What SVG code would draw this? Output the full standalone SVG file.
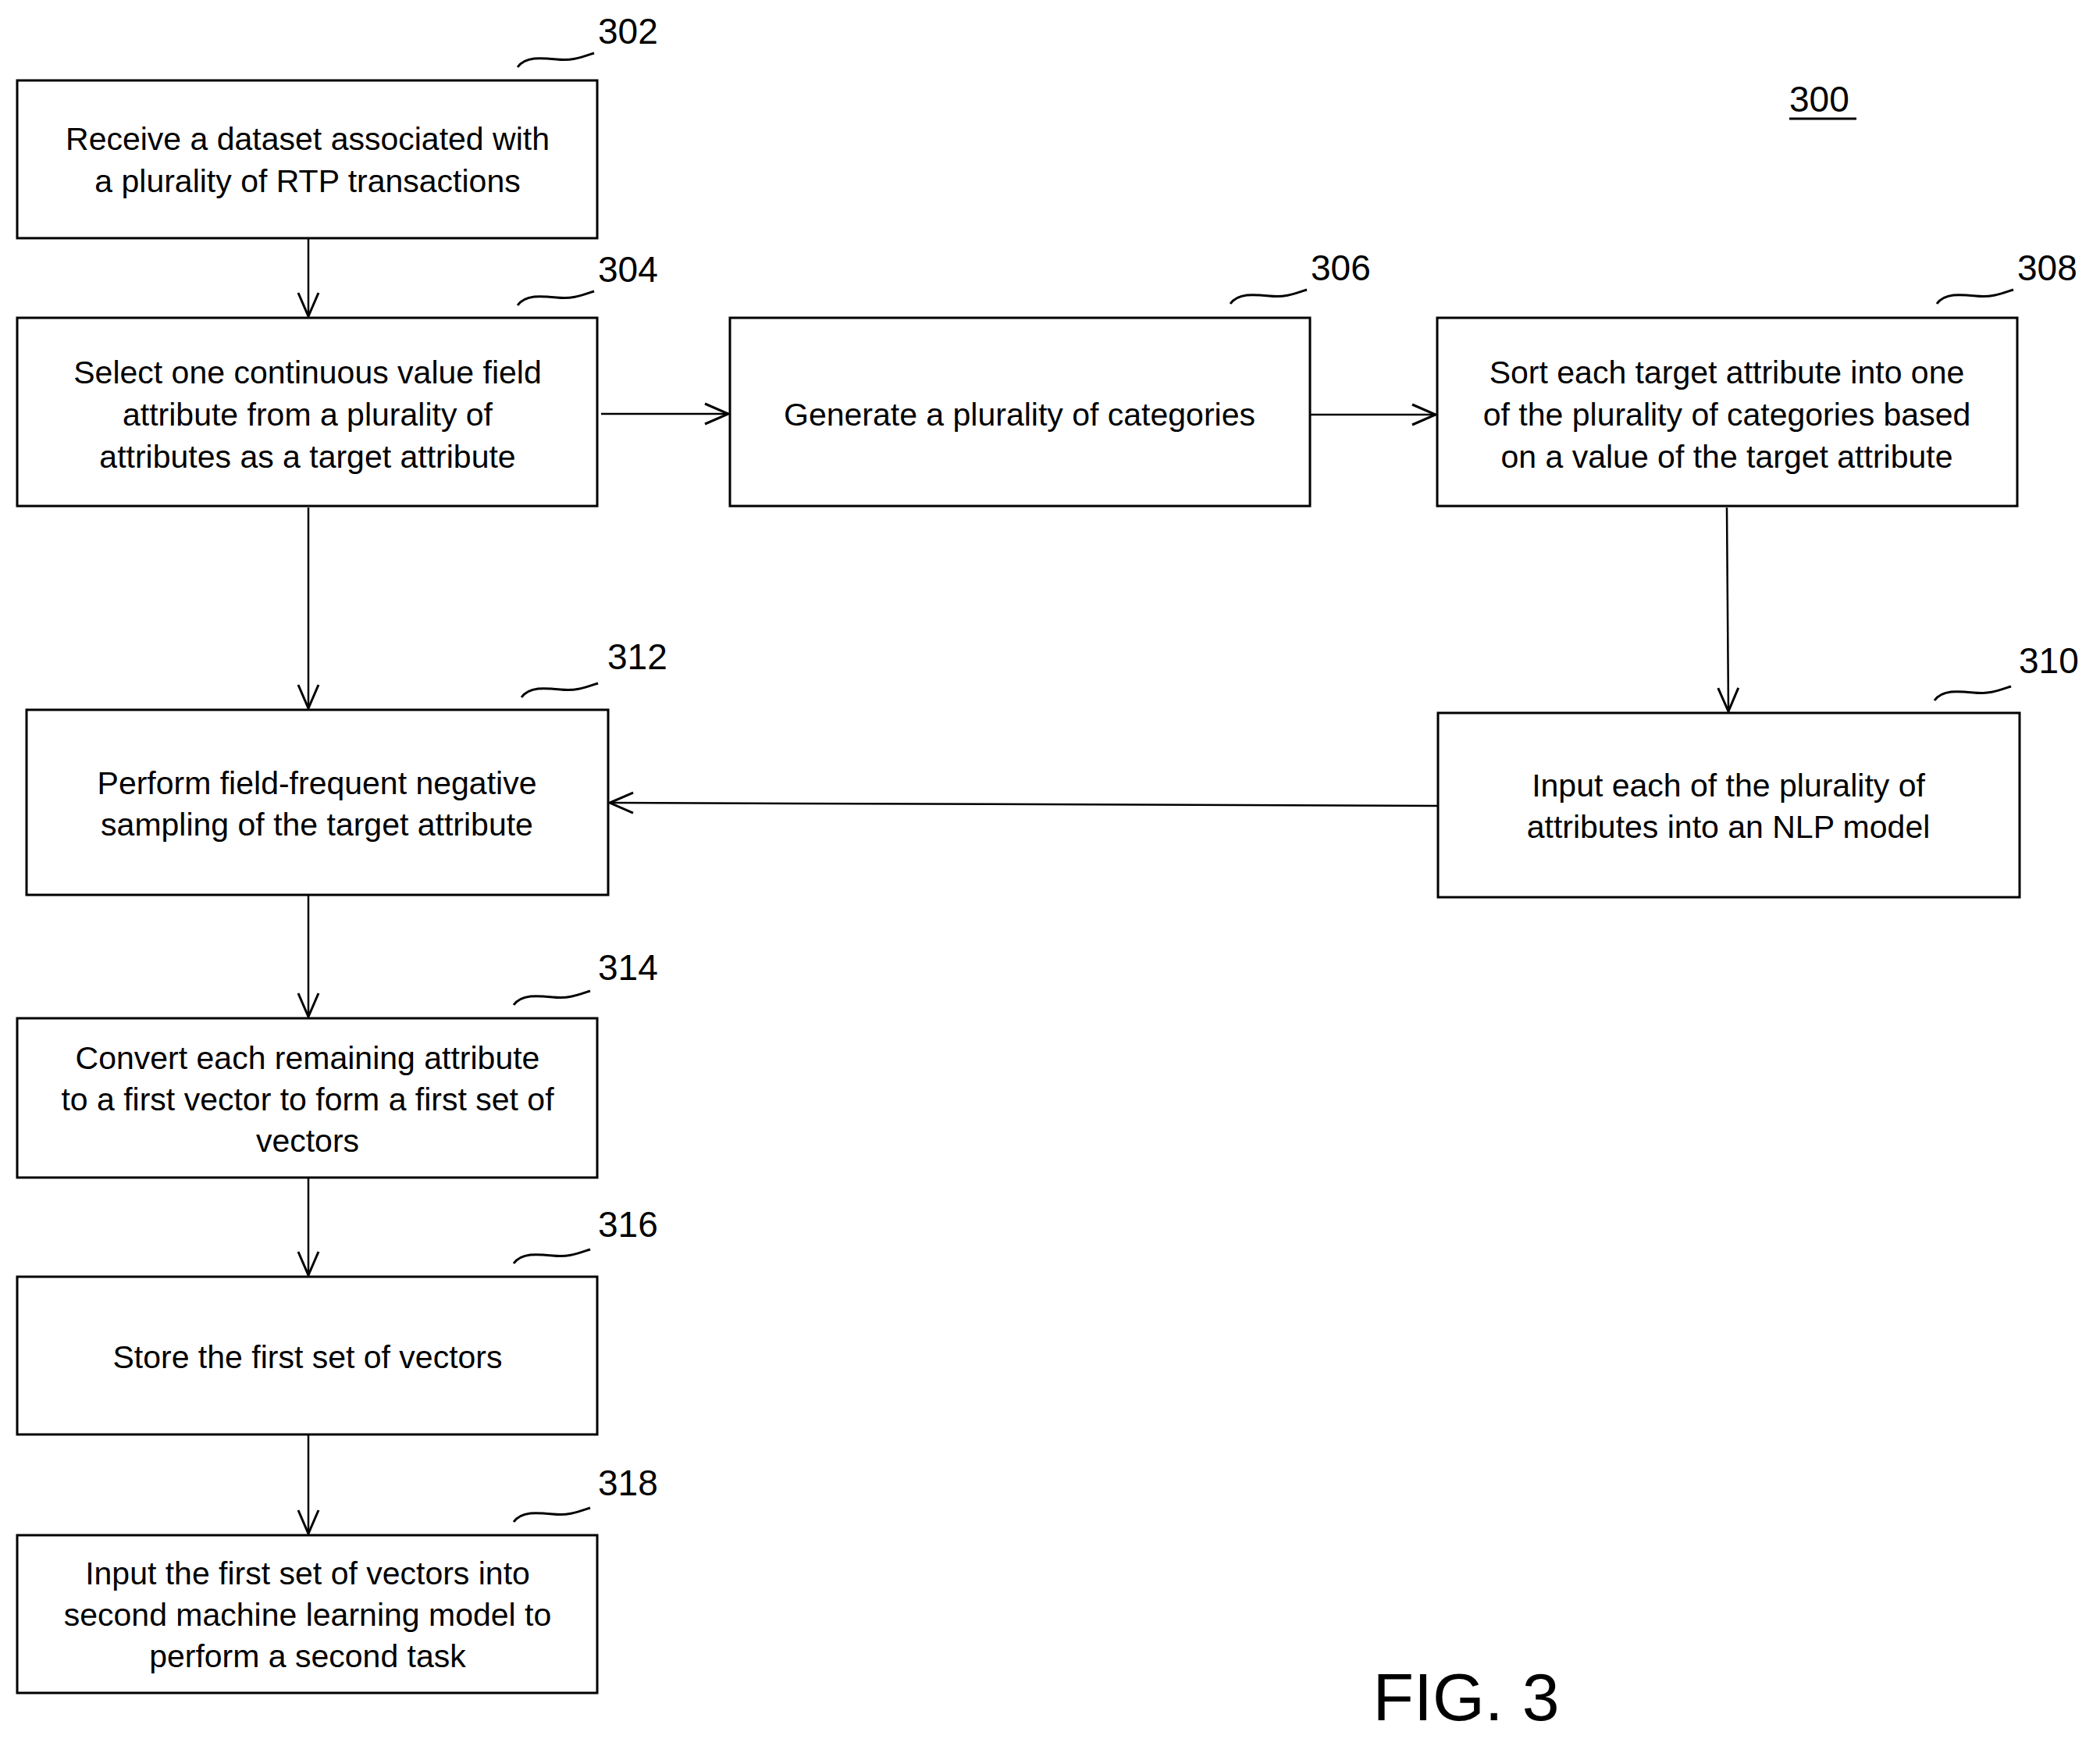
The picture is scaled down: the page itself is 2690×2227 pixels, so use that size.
<svg xmlns="http://www.w3.org/2000/svg" width="2690" height="2227" viewBox="0 0 2690 2227">
<style>
rect{fill:#fff;stroke:#000;stroke-width:3}
text{font-family:"Liberation Sans",Arial,sans-serif;font-size:41px;fill:#000;text-anchor:middle;dominant-baseline:central}
.n{font-size:46px;text-anchor:start}
.c{fill:none;stroke:#000;stroke-width:2.5}
.s{fill:none;stroke:#000;stroke-width:3}
</style>
<defs><marker id="a" markerWidth="12" markerHeight="12" refX="11" refY="6" orient="auto" markerUnits="userSpaceOnUse"><path d="M0,0 L12,6 L0,12 L3,6 z" fill="#000"/></marker>
<marker id="b" markerWidth="34" markerHeight="30" refX="32" refY="15" orient="auto" markerUnits="userSpaceOnUse"><path d="M2,2 L32,15 L2,28" fill="none" stroke="#000" stroke-width="3"/></marker></defs>
<rect x="0" y="0" width="2690" height="2227" style="fill:#fff;stroke:none"/>
<g id="n302"><rect x="22" y="103" width="743" height="202"/><text x="394" y="178">Receive a dataset associated with</text><text x="394" y="232">a plurality of RTP transactions</text><text class="n" x="766" y="40">302</text><path class="s" d="M663,86 c10,-14 30,-12 50,-10 c20,2 30,-2 48,-8"/></g>
<g id="n304"><rect x="22" y="407" width="743" height="241"/><text x="394" y="477">Select one continuous value field</text><text x="394" y="531">attribute from a plurality of</text><text x="394" y="585">attributes as a target attribute</text><text class="n" x="766" y="345">304</text><path class="s" d="M663,391 c10,-14 30,-12 50,-10 c20,2 30,-2 48,-8"/></g>
<g id="n306"><rect x="935" y="407" width="743" height="241"/><text x="1306" y="531">Generate a plurality of categories</text><text class="n" x="1679" y="343">306</text><path class="s" d="M1576,389 c10,-14 30,-12 50,-10 c20,2 30,-2 48,-8"/></g>
<g id="n308"><rect x="1841" y="407" width="743" height="241"/><text x="2212" y="477">Sort each target attribute into one</text><text x="2212" y="531">of the plurality of categories based</text><text x="2212" y="585">on a value of the target attribute</text><text class="n" x="2584" y="343">308</text><path class="s" d="M2481,389 c10,-14 30,-12 50,-10 c20,2 30,-2 48,-8"/></g>
<g id="n312"><rect x="34" y="909" width="745" height="237"/><text x="406" y="1003">Perform field-frequent negative</text><text x="406" y="1056">sampling of the target attribute</text><text class="n" x="778" y="841">312</text><path class="s" d="M668,893 c10,-14 30,-12 50,-10 c20,2 30,-2 48,-8"/></g>
<g id="n310"><rect x="1842" y="913" width="745" height="236"/><text x="2214" y="1006">Input each of the plurality of</text><text x="2214" y="1059">attributes into an NLP model</text><text class="n" x="2586" y="846">310</text><path class="s" d="M2478,897 c10,-14 30,-12 50,-10 c20,2 30,-2 48,-8"/></g>
<g id="n314"><rect x="22" y="1304" width="743" height="204"/><text x="394" y="1355">Convert each remaining attribute</text><text x="394" y="1408">to a first vector to form a first set of</text><text x="394" y="1461">vectors</text><text class="n" x="766" y="1239">314</text><path class="s" d="M658,1287 c10,-14 30,-12 50,-10 c20,2 30,-2 48,-8"/></g>
<g id="n316"><rect x="22" y="1635" width="743" height="202"/><text x="394" y="1738">Store the first set of vectors</text><text class="n" x="766" y="1568">316</text><path class="s" d="M658,1618 c10,-14 30,-12 50,-10 c20,2 30,-2 48,-8"/></g>
<g id="n318"><rect x="22" y="1966" width="743" height="202"/><text x="394" y="2015">Input the first set of vectors into</text><text x="394" y="2068">second machine learning model to</text><text x="394" y="2121">perform a second task</text><text class="n" x="766" y="1899">318</text><path class="s" d="M658,1949 c10,-14 30,-12 50,-10 c20,2 30,-2 48,-8"/></g>
<g id="labels"><text class="n" x="2292" y="127">300</text><line x1="2292" y1="152" x2="2378" y2="152" stroke="#000" stroke-width="3"/><text x="1878" y="2173" style="font-size:86px">FIG. 3</text></g>
<g id="connectors">
<line class="c" x1="395" y1="305" x2="395" y2="405" marker-end="url(#b)"/>
<line class="c" x1="770" y1="530" x2="933" y2="530" marker-end="url(#b)"/>
<line class="c" x1="1678" y1="531" x2="1839" y2="531" marker-end="url(#b)"/>
<line class="c" x1="2212" y1="650" x2="2214" y2="911" marker-end="url(#b)"/>
<line class="c" x1="1842" y1="1032" x2="781" y2="1028" marker-end="url(#b)"/>
<line class="c" x1="395" y1="650" x2="395" y2="907" marker-end="url(#b)"/>
<line class="c" x1="395" y1="1146" x2="395" y2="1302" marker-end="url(#b)"/>
<line class="c" x1="395" y1="1508" x2="395" y2="1633" marker-end="url(#b)"/>
<line class="c" x1="395" y1="1837" x2="395" y2="1964" marker-end="url(#b)"/>
</g>
</svg>
